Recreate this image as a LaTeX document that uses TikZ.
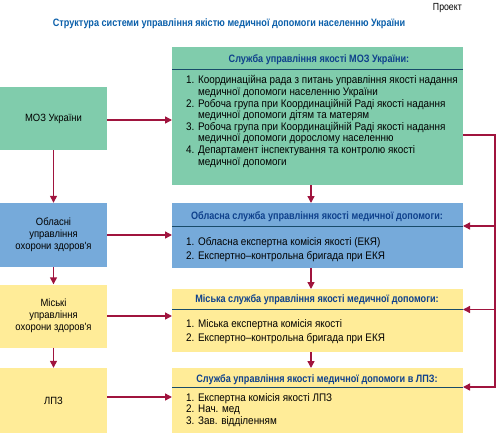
\documentclass[tikz,border=0pt]{standalone}
\usepackage{fontspec}
\setmainfont{Liberation Sans}[FakeStretch=0.85]
\newfontfamily\bodyfont{Liberation Sans}[FakeStretch=0.9]
\usetikzlibrary{arrows.meta}
\definecolor{boxgreen}{RGB}{128,204,172}
\definecolor{boxblue}{RGB}{118,170,218}
\definecolor{boxyellow}{RGB}{255,236,152}
\definecolor{arrred}{RGB}{160,20,62}
\definecolor{titleblue}{RGB}{10,95,170}
\definecolor{headblue}{RGB}{15,65,140}
\definecolor{rulecol}{RGB}{25,75,105}
\tikzset{
  lbox/.style={draw=none, minimum width=107pt, inner sep=0pt, align=center, font=\bodyfont\fontsize{10.5}{12.2}\selectfont},
  rbox/.style={draw=none, minimum width=291pt, inner sep=0pt, anchor=north west},
  head/.style={font=\fontsize{10.7}{12}\selectfont\bfseries, text=headblue, inner sep=0pt},
  body/.style={font=\bodyfont\fontsize{11}{11.6}\selectfont, align=left, anchor=north west, inner sep=0pt},
  body2/.style={body, font=\bodyfont\fontsize{11}{14.3}\selectfont},
  body3/.style={body, font=\bodyfont\fontsize{11}{11.2}\selectfont},
  arr/.style={draw=arrred, line width=1.4pt, -{Triangle[length=7pt,width=7pt]}},
  lin/.style={draw=arrred, line width=1.4pt},
  hrule/.style={draw=rulecol, line width=1pt}
}
\begin{document}
\begin{tikzpicture}[x=1pt,y=-1pt]
\useasboundingbox (0,0) rectangle (500,433);
% title
\node[anchor=east, inner sep=0pt, font=\fontsize{10.3}{12}\selectfont] (proj) at (462,8) {Проект};
\node[inner sep=0pt, font=\fontsize{10.7}{12}\selectfont\bfseries, text=titleblue] (title) at (229,24) {Структура системи управління якістю медичної допомоги населенню України};
% left boxes
\node[lbox, fill=boxgreen, minimum height=63pt] (moz) at (53.5,118.5) {МОЗ України};
\node[lbox, fill=boxblue, minimum height=64pt] (obl) at (53.5,235) {Обласні\\управління\\охорони здоров'я};
\node[lbox, fill=boxyellow, minimum height=63pt] (mis) at (53.5,316) {Міські\\управління\\охорони здоров'я};
\node[lbox, fill=boxyellow, minimum height=65pt] (lpz) at (53.5,400.5) {ЛПЗ};
% right boxes
\node[rbox, fill=boxgreen, minimum height=138pt] (s1) at (172,47) {};
\node[rbox, fill=boxblue, minimum height=65pt] (s2) at (172,203) {};
\node[rbox, fill=boxyellow, minimum height=63pt] (s3) at (172,289) {};
\node[rbox, fill=boxyellow, minimum height=65pt] (s4) at (172,368) {};
% header rules
\coordinate (h1l) at (172,69.5); \coordinate (h1) at (463,69.5);
\coordinate (h2l) at (172,226); \coordinate (h2) at (463,226);
\coordinate (h3l) at (172,309.5); \coordinate (h3) at (463,309.5);
\coordinate (h4l) at (172,387); \coordinate (h4) at (463,387);
\draw[hrule] (h1l) -- (h1);
\draw[hrule] (h2l) -- (h2);
\draw[hrule] (h3l) -- (h3);
\draw[hrule] (h4l) -- (h4);
% headers
\node[head] (t1) at (319,59.5) {Служба управління якості МОЗ України:};
\node[head] (t2) at (317,216.5) {Обласна служба управління якості медичної допомоги:};
\node[head] (t3) at (317,300) {Міська служба управління якості медичної допомоги:};
\node[head] (t4) at (317,379.5) {Служба управління якості медичної допомоги в ЛПЗ:};
% bodies
\node[body] (b1) at (186,75.5) {1. Координаційна рада з питань управління якості надання\\
\phantom{1. }медичної допомоги населенню України\\
2. Робоча група при Координаційній Раді якості надання\\
\phantom{2. }медичної допомоги дітям та матерям\\
3. Робоча група при Координаційній Раді якості надання\\
\phantom{3. }медичної допомоги дорослому населенню\\
4. Департамент інспектування та контролю якості\\
\phantom{4. }медичної допомоги};
\node[body2] (b2) at (186,237) {1. Обласна експертна комісія якості (ЕКЯ)\\
2. Експертно–контрольна бригада при ЕКЯ};
\node[body2] (b3) at (186,319.5) {1. Міська експертна комісія якості\\
2. Експертно–контрольна бригада при ЕКЯ};
\node[body3] (b4) at (186,393.5) {1. Експертна комісія якості ЛПЗ\\
2. Нач. мед\\
3. Зав. відділенням};
% left horizontal arrows
\draw[arr] (moz.east |- 0,120) -- (s1.west |- 0,120);
\draw[arr] (obl.east) -- (s2.west |- obl.east);
\draw[arr] (mis.east) -- (s3.west |- mis.east);
\draw[arr] (lpz.east |- 0,397) -- (s4.west |- 0,397);
% left vertical arrows
\draw[arr] (moz.south) -- (obl.north);
\draw[arr] (obl.south) -- (mis.north);
\draw[arr] (mis.south) -- (lpz.north);
% right vertical arrows
\draw[arr] (s1.south -| 311,0) -- (s2.north -| 311,0);
\draw[arr] (s2.south -| 311,0) -- (s3.north -| 311,0);
\draw[arr] (s3.south -| 311,0) -- (s4.north -| 311,0);
% right side loop
\coordinate (r1) at (495,135);
\draw[lin] (s1.east |- r1) -- (r1) -- (r1 |- h4);
\draw[arr] (r1 |- h2) -- (h2);
\draw[arr] (r1 |- h3) -- (h3);
\draw[arr] ([xshift=0.7pt]r1 |- h4) -- (h4);
\end{tikzpicture}
\end{document}
